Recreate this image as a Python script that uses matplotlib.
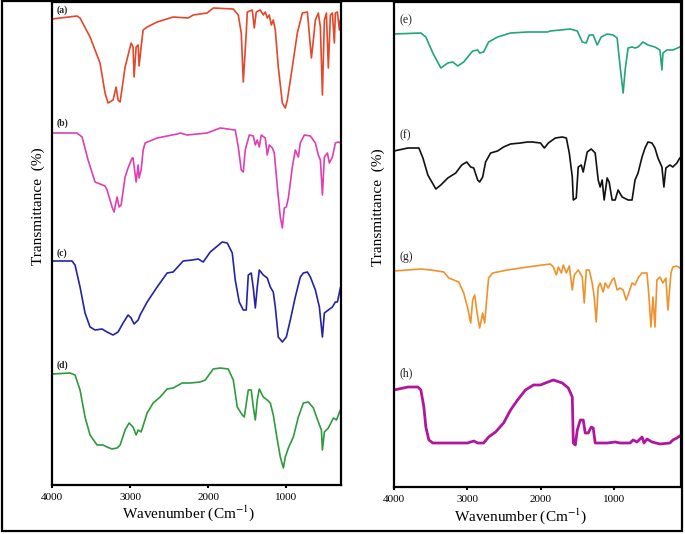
import matplotlib
matplotlib.use("Agg")
import matplotlib.pyplot as plt
from matplotlib.patches import Rectangle

plt.rcParams['font.family'] = 'serif'
plt.rcParams['font.serif'] = ['Liberation Serif', 'DejaVu Serif']
plt.rcParams['mathtext.fontset'] = 'stix'

# ---- data (wavenumber, stacked transmittance in arbitrary units) ----
a_wn = [4000, 3680, 3641, 3513, 3385, 3321, 3282, 3218, 3179, 3154, 3128, 3064, 2987, 2962, 2949, 2923,
        2897, 2885, 2859, 2833, 2782, 2654, 2449, 2256, 2192, 2013, 1936, 1679, 1615, 1577, 1551, 1513,
        1500, 1436, 1410, 1385, 1333, 1295, 1269, 1244, 1218, 1192, 1167, 1141, 1103, 1051, 1013, 987,
        923, 859, 795, 731, 718, 679, 654, 628, 590, 564, 538, 513, 487, 462, 436, 410, 385, 372, 346,
        321, 308]
a_t = [466, 469, 467, 448, 422, 392, 382, 385, 398, 385, 383, 418, 442, 438, 408, 438,
       440, 419, 438, 455, 458, 463, 468, 467, 470, 472, 477, 476, 470, 452, 403, 452,
       473, 475, 457, 473, 475, 470, 473, 467, 470, 460, 465, 455, 418, 382, 377, 385,
       418, 452, 472, 473, 462, 427, 445, 465, 472, 458, 390, 465, 472, 417, 470, 472, 442, 472, 473,
       455, 465]

b_wn = [4000, 3680, 3615, 3538, 3449, 3321, 3295, 3231, 3205, 3167, 3141, 3115, 3064, 3026, 2974, 2962,
        2923, 2897, 2885, 2859, 2833, 2808, 2654, 2397, 2359, 2269, 2013, 1846, 1654, 1615, 1577, 1551,
        1526, 1474, 1423, 1397, 1372, 1346, 1321, 1269, 1244, 1218, 1179, 1154, 1115, 1077, 1051, 1026,
        1000, 974, 923, 885, 846, 821, 769, 692, 628, 590, 564, 538, 513, 474, 449, 410, 372, 333, 308]
b_t = [352, 352, 348, 325, 303, 299, 295, 278, 273, 288, 278, 280, 308, 317, 327, 327,
       303, 320, 307, 315, 335, 342, 347, 351, 352, 350, 352, 357, 355, 338, 315, 313,
       335, 350, 349, 340, 345, 338, 350, 347, 330, 340, 337, 332, 298, 268, 257, 277,
       278, 287, 318, 335, 328, 342, 350, 349, 342, 330, 325, 290, 328, 332, 322, 328, 342, 343, 342]

c_wn = [4000, 3744, 3705, 3641, 3577, 3513, 3449, 3359, 3295, 3218, 3154, 3090, 3026, 2987, 2949, 2897,
        2872, 2782, 2654, 2526, 2449, 2321, 2205, 2128, 2064, 1974, 1821, 1756, 1692, 1654, 1603, 1551,
        1513, 1487, 1449, 1423, 1397, 1372, 1346, 1295, 1244, 1205, 1167, 1141, 1103, 1051, 1000, 949,
        885, 821, 782, 731, 692, 628, 577, 538, 513, 462, 410, 372, 346, 308]
c_t = [224, 224, 220, 198, 172, 158, 155, 156, 153, 150, 153, 162, 170, 167, 161, 165,
       170, 183, 198, 212, 213, 224, 225, 226, 223, 233, 243, 242, 232, 205, 183, 175,
       175, 210, 212, 197, 177, 198, 215, 210, 207, 198, 193, 178, 148, 143, 148, 165,
       188, 208, 212, 213, 208, 195, 178, 148, 172, 175, 178, 183, 183, 197]

d_wn = [4000, 3769, 3705, 3641, 3577, 3513, 3423, 3346, 3295, 3231, 3167, 3128, 3064, 3013, 2962, 2923,
        2897, 2859, 2782, 2705, 2615, 2526, 2449, 2333, 2231, 2103, 2038, 1936, 1846, 1744, 1679, 1628,
        1564, 1538, 1487, 1449, 1423, 1397, 1372, 1346, 1295, 1244, 1205, 1167, 1115, 1077, 1038, 1013,
        974, 910, 846, 782, 718, 654, 590, 551, 538, 513, 462, 397, 359, 308]
d_t = [111, 112, 110, 95, 68, 50, 40, 40, 38, 36, 37, 40, 55, 62, 58, 50,
       55, 53, 72, 82, 88, 96, 97, 102, 102, 103, 105, 116, 117, 116, 105, 78,
       70, 68, 95, 95, 78, 65, 85, 96, 88, 85, 82, 70, 45, 28, 17, 28,
       37, 48, 68, 82, 83, 77, 63, 55, 35, 53, 57, 67, 65, 75]

e_wn = [4000, 3634, 3566, 3471, 3362, 3267, 3199, 3131, 3050, 2996, 2928, 2860, 2833, 2779, 2711, 2589,
        2412, 2182, 1910, 1870, 1598, 1503, 1435, 1381, 1340, 1286, 1232, 1177, 1096, 1015, 960, 919,
        878, 851, 811, 757, 716, 675, 608, 540, 445, 377, 350, 336, 282, 201, 106]
e_t = [453, 454, 450, 434, 419, 424, 425, 421, 425, 430, 436, 437, 434, 435, 445, 450,
       454, 455, 455, 456, 458, 456, 445, 444, 452, 452, 442, 450, 453, 452, 449, 420,
       394, 417, 439, 440, 439, 440, 445, 442, 440, 437, 417, 434, 437, 437, 440]

f_wn = [4000, 3810, 3661, 3606, 3539, 3430, 3362, 3267, 3159, 3077, 3009, 2955, 2914, 2860, 2833, 2792,
        2752, 2684, 2589, 2507, 2412, 2277, 2182, 2114, 2005, 1951, 1897, 1802, 1707, 1652, 1612, 1571,
        1557, 1517, 1490, 1449, 1422, 1368, 1313, 1259, 1218, 1191, 1164, 1137, 1096, 1069, 1028, 987,
        947, 892, 811, 757, 716, 675, 621, 580, 540, 485, 445, 404, 350, 323, 296, 241, 201, 146, 106]
f_t = [336, 339, 339, 329, 312, 298, 302, 309, 314, 322, 325, 320, 319, 307, 305, 310,
       325, 334, 336, 340, 343, 344, 345, 345, 344, 339, 344, 349, 350, 349, 334, 310,
       287, 289, 320, 322, 315, 335, 338, 334, 307, 300, 307, 287, 309, 305, 287, 287,
       297, 290, 287, 287, 307, 314, 330, 339, 345, 344, 339, 329, 320, 300, 319, 322, 320, 324, 329]

g_wn = [4000, 3634, 3498, 3322, 3254, 3186, 3118, 3050, 2996, 2955, 2928, 2901, 2860, 2833, 2792, 2765,
        2738, 2711, 2657, 2453, 2182, 1870, 1829, 1788, 1761, 1720, 1693, 1652, 1612, 1571, 1544, 1490,
        1435, 1408, 1381, 1340, 1300, 1272, 1245, 1218, 1191, 1150, 1123, 1082, 1028, 1001, 960, 919,
        878, 838, 811, 757, 716, 675, 621, 553, 526, 499, 472, 445, 418, 377, 336, 296, 268, 227, 201,
        146, 106]
g_t = [216, 218, 217, 215, 209, 207, 205, 194, 179, 164, 187, 192, 170, 159, 174, 164,
       187, 209, 214, 217, 220, 223, 220, 212, 220, 214, 222, 214, 221, 197, 212, 217,
       210, 184, 217, 217, 204, 190, 165, 200, 204, 195, 204, 199, 207, 209, 197, 199,
       197, 187, 192, 204, 202, 209, 214, 214, 190, 160, 190, 160, 207, 210, 204, 209, 177, 214, 220,
       221, 219]

h_wn = [4000, 3810, 3674, 3634, 3593, 3566, 3525, 3471, 3362, 2996, 2914, 2860, 2779, 2711, 2616, 2507,
        2412, 2317, 2209, 2100, 2005, 1937, 1829, 1707, 1625, 1571, 1557, 1530, 1503, 1462, 1422, 1395,
        1354, 1313, 1286, 1259, 1096, 987, 919, 784, 743, 689, 621, 594, 553, 485, 377, 241, 201, 146, 106]
h_t = [97, 100, 100, 97, 80, 60, 47, 44, 44, 44, 46, 44, 44, 50, 55, 64,
       77, 87, 97, 102, 102, 104, 107, 104, 99, 90, 44, 42, 57, 67, 67, 54,
       54, 60, 59, 44, 44, 45, 44, 44, 47, 45, 50, 44, 48, 45, 43, 44, 47, 49, 51]

left_series = [(a_wn, a_t, '#E5472A', '(a)', 475),
               (b_wn, b_t, '#DE3FB2', '(b)', 362),
               (c_wn, c_t, '#2323A8', '(c)', 232),
               (d_wn, d_t, '#2F9A3E', '(d)', 120)]
right_series = [(e_wn, e_t, '#22A57B', '(e)', 467),
                (f_wn, f_t, '#111111', '(f)', 352),
                (g_wn, g_t, '#F0922B', '(g)', 230),
                (h_wn, h_t, '#B0179C', '(h)', 114)]
ticks = [4000, 3000, 2000, 1000]

fig = plt.figure(figsize=(6.85, 5.34), dpi=100)

# outer frame around both panels
fig.patches.append(Rectangle((2 / 685, 3 / 534), 680 / 685, 530 / 534, transform=fig.transFigure,
                             fill=False, edgecolor='black', linewidth=1.6))

ax1 = fig.add_axes([52 / 685, 1 - 485 / 534, 289 / 685, 483 / 534])
ax2 = fig.add_axes([394 / 685, 1 - 487 / 534, 287 / 685, 485 / 534])

for wn, t, col, lab, ly in left_series:
    ax1.plot(wn, t, color=col, lw=1.2)
    ax1.text(3945, ly, lab, fontsize=7, fontweight='bold', va='center', ha='left', color='#222222')
for wn, t, col, lab, ly in right_series:
    lw = 2.0 if lab == '(h)' else 1.2
    ax2.plot(wn, t, color=col, lw=lw)
    ax2.text(3920, ly, lab, fontsize=8.5, va='center', ha='left', color='#222222')

ax1.set_xlim(4000, 300)
ax1.set_ylim(0, 483)
ax2.set_xlim(4000, 90)
ax2.set_ylim(0, 485)

for ax in (ax1, ax2):
    ax.set_xticks(ticks)
    ax.set_yticks([])
    ax.tick_params(axis='x', direction='out', length=2.5, width=1.5, pad=3, labelsize=8)
    for s in ax.spines.values():
        s.set_linewidth(1.6)

fig.text(189 / 685, 1 - 513 / 534, r'Wavenumber (Cm$^{-1}$)', fontsize=11, ha='center', va='center')
fig.text(521 / 685, 1 - 516 / 534, r'Wavenumber (Cm$^{-1}$)', fontsize=11, ha='center', va='center')
fig.text(38 / 685, 1 - 206 / 534, 'Transmittance  (%)', fontsize=11, rotation=90, ha='center', va='center')
fig.text(378 / 685, 1 - 207 / 534, 'Transmittance  (%)', fontsize=11, rotation=90, ha='center', va='center')

fig.savefig('out.png', dpi=100)
